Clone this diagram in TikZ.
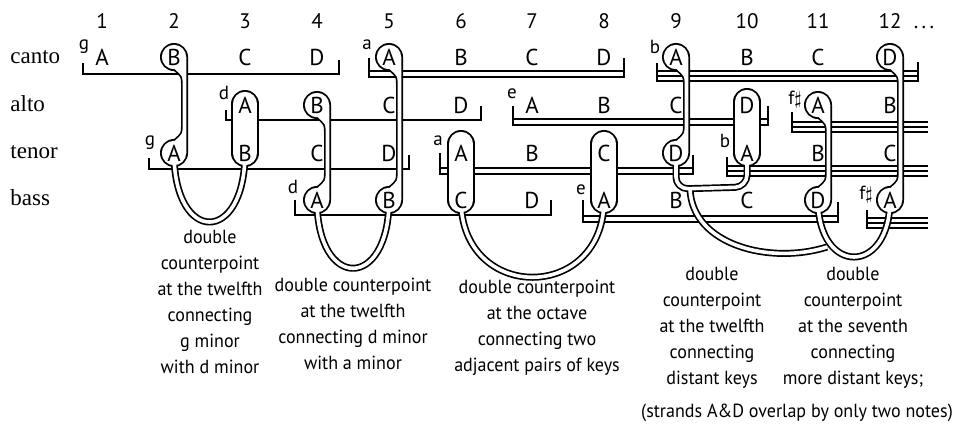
\documentclass[tikz,border=0pt]{standalone}
\usepackage{fontspec}
\setmainfont{Liberation Serif}
\newfontfamily\notafont{PT Sans}
\newfontfamily\capfont{PT Sans}[FakeStretch=0.95]
\usetikzlibrary{calc}
\pgfdeclarelayer{lineas}
\pgfdeclarelayer{negro}
\pgfdeclarelayer{blanco}
\pgfsetlayers{lineas,negro,blanco,main}
\tikzset{
  nota/.style={font=\notafont\fontsize{11.5}{14}\selectfont,inner sep=0pt,
               text height=8pt,text depth=0pt},
  num/.style={nota,font=\notafont\fontsize{10.5}{12}\selectfont,text height=7.4pt},
  voz/.style={font=\fontsize{11.5}{13}\selectfont,anchor=base west,inner sep=0pt},
  clave/.style={font=\notafont\fontsize{9.5}{11}\selectfont,inner sep=0pt},
  leyenda/.style={font=\capfont\fontsize{9.5}{13}\selectfont,align=center,inner sep=0pt},
  raya/.style={line width=1pt},
  tubon/.style={line width=3.5pt,line join=round},
  tubob/.style={line width=1.8pt,line join=round,white},
}
\newcommand{\tubo}[2][]{%
  \begin{pgfonlayer}{negro}\draw[tubon,#1] #2;\end{pgfonlayer}%
  \begin{pgfonlayer}{blanco}\draw[tubob,#1] #2;\end{pgfonlayer}}
\newcommand{\anillo}[1]{%
  \begin{pgfonlayer}{negro}\fill (#1.center) circle[radius=7pt];\end{pgfonlayer}%
  \begin{pgfonlayer}{blanco}\fill[white] (#1.center) circle[radius=6.1pt];\end{pgfonlayer}}
\newcommand{\capsula}[3][3]{%
  \begin{pgfonlayer}{negro}\draw[line width=14pt,line cap=round]
    ($(#2.center)+(0,-#1)$) -- (#3.center);\end{pgfonlayer}%
  \begin{pgfonlayer}{blanco}\draw[white,line width=12.2pt,line cap=round]
    ($(#2.center)+(0,-#1)$) -- (#3.center);\end{pgfonlayer}}
\newcommand{\cable}[2]{%
  \tubo{($(#1.center)+(10.5,0)$) -- ($(#2.center)+(10.5,0)$)
    ($(#1.center)+(0,6)$) .. controls ($(#1.center)+(3,17)$) and ($(#1.center)+(10.5,12)$) .. ($(#1.center)+(10.5,26)$)
    ($(#2.center)+(10.5,-26)$) .. controls ($(#2.center)+(10.5,-12)$) and ($(#2.center)+(3,-17)$) .. ($(#2.center)+(0,-6)$)}%
  \begin{pgfonlayer}{blanco}
    \fill[white] ($(#1.center)+(0,6)$) .. controls ($(#1.center)+(3,17)$) and ($(#1.center)+(10.5,12)$)
      .. ($(#1.center)+(10.5,26)$) -- ($(#1.center)+(10.5,0)$) -- cycle;
    \fill[white] ($(#2.center)+(10.5,-26)$) .. controls ($(#2.center)+(10.5,-12)$) and ($(#2.center)+(3,-17)$)
      .. ($(#2.center)+(0,-6)$) -- ($(#2.center)+(10.5,0)$) -- cycle;
  \end{pgfonlayer}}

\begin{document}
\begin{tikzpicture}[x=0.5pt,y=-0.5pt]
\useasboundingbox (0,0) rectangle (954,425);

\node[num] (n1) at (102,21) {1};   \node[num] (n2) at (174,21) {2};
\node[num] (n3) at (245,21) {3};   \node[num] (n4) at (317,21) {4};
\node[num] (n5) at (389,21) {5};   \node[num] (n6) at (461,21) {6};
\node[num] (n7) at (532,21) {7};   \node[num] (n8) at (604,21) {8};
\node[num] (n9) at (676,21) {9};   \node[num] (n10) at (747,21) {10};
\node[num] (n11) at (818,21) {11}; \node[num] (n12) at (890,21) {12};
\node[num] (nmas) at (924,21) {.\,.\,.};

\node[voz] (vcanto) at (10,63) {canto};
\node[voz] (valto) at (10,111) {alto};
\node[voz] (vtenor) at (10,158) {tenor};
\node[voz] (vbass) at (10,205) {bass};

\node[nota] (c1) at (102,57) {A};  \node[nota] (c2) at (174,57) {B};
\node[nota] (c3) at (245,57) {C};  \node[nota] (c4) at (317,57) {D};
\node[nota] (c5) at (389,57) {A};  \node[nota] (c6) at (461,57) {B};
\node[nota] (c7) at (532,57) {C};  \node[nota] (c8) at (604,57) {D};
\node[nota] (c9) at (676,57) {A};  \node[nota] (c10) at (747,57) {B};
\node[nota] (c11) at (818,57) {C}; \node[nota] (c12) at (890,57) {D};

\node[nota] (a3) at (245,105) {A};  \node[nota] (a4) at (317,105) {B};
\node[nota] (a5) at (389,105) {C};  \node[nota] (a6) at (461,105) {D};
\node[nota] (a7) at (532,105) {A};  \node[nota] (a8) at (604,105) {B};
\node[nota] (a9) at (676,105) {C};  \node[nota] (a10) at (747,105) {D};
\node[nota] (a11) at (818,105) {A}; \node[nota] (a12) at (890,105) {B};

\node[nota] (t2) at (174,153) {A};  \node[nota] (t3) at (245,153) {B};
\node[nota] (t4) at (317,153) {C};  \node[nota] (t5) at (389,153) {D};
\node[nota] (t6) at (461,153) {A};  \node[nota] (t7) at (532,153) {B};
\node[nota] (t8) at (604,153) {C};  \node[nota] (t9) at (676,153) {D};
\node[nota] (t10) at (747,153) {A}; \node[nota] (t11) at (818,153) {B};
\node[nota] (t12) at (890,153) {C};

\node[nota] (b4) at (317,200) {A};  \node[nota] (b5) at (389,200) {B};
\node[nota] (b6) at (461,200) {C};  \node[nota] (b7) at (532,200) {D};
\node[nota] (b8) at (604,200) {A};  \node[nota] (b9) at (676,200) {B};
\node[nota] (b10) at (747,200) {C}; \node[nota] (b11) at (818,200) {D};
\node[nota] (b12) at (890,200) {A};

\node[clave] (kcg) at (84,47) {g};   \node[clave] (ktg) at (150,143) {g};
\node[clave] (kad) at (224,93) {d};  \node[clave] (kbd) at (293,187) {d};
\node[clave] (kca) at (367,45) {a};  \node[clave] (kta) at (438,141) {a};
\node[clave] (kae) at (512,94) {e};  \node[clave] (kbe) at (581,190) {e};
\node[clave] (kcb) at (655,47) {b};  \node[clave] (ktb) at (725,141) {b};
\node[clave] (kaf) at (795,100) {f$\sharp$}; \node[clave] (kbf) at (866,195) {f$\sharp$};

\begin{pgfonlayer}{lineas}
\draw[raya] (83,63) -- (83,74) -- (339,74) -- (339,60);
\draw[raya] (369,58) -- (369,78) (369,71) -- (624,71) (369,77) -- (624,77) (624,58) -- (624,78);
\draw[raya] (657,63) -- (657,82) (657,71) -- (918,71) (657,76) -- (918,76) (657,81) -- (918,81) (918,62) -- (918,82);
\draw[raya] (226,110) -- (226,120) -- (481,120) -- (481,106);
\draw[raya] (513,106) -- (513,126) (513,119) -- (768,119) (513,125) -- (768,125) (768,106) -- (768,126);
\draw[raya] (792,112) -- (792,133) (792,122) -- (928,122) (792,127) -- (928,127) (792,132) -- (928,132);
\draw[raya] (149,158) -- (149,169) -- (409,169) -- (409,155);
\draw[raya] (440,153) -- (440,175) (440,168) -- (693,168) (440,174) -- (693,174) (693,155) -- (693,175);
\draw[raya] (727,157) -- (727,177) (727,166) -- (928,166) (727,171) -- (928,171) (727,176) -- (928,176);
\draw[raya] (295,200) -- (295,215) -- (551,215) -- (551,200);
\draw[raya] (583,200) -- (583,223) (583,216) -- (838,216) (583,222) -- (838,222) (838,202) -- (838,223);
\draw[raya] (867,210) -- (867,229) (867,218) -- (928,218) (867,223) -- (928,223) (867,228) -- (928,228);
\end{pgfonlayer}

\anillo{c2} \anillo{t2} \anillo{a4} \anillo{b4} \anillo{c5} \anillo{b5}
\anillo{c9} \anillo{t9} \anillo{a11} \anillo{b11} \anillo{c12} \anillo{b12}
\capsula[1]{a3}{t3} \capsula[9]{t6}{b6} \capsula[9]{t8}{b8} \capsula{a10}{t10}
\cable{c2}{t2} \cable{a4}{b4} \cable{c5}{b5}
\cable{c9}{t9} \cable{a11}{b11} \cable{c12}{b12}

\tubo{(t2.center) .. controls ($(t2.center)+(0,92)$) and ($(t3.center)+(0,92)$) .. (t3.center)}
\tubo{(b4.center) .. controls ($(b4.center)+(0,91)$) and ($(b5.center)+(0,91)$) .. (b5.center)}
\tubo{(b6.center) .. controls ($(b6.center)+(0,103)$) and ($(b8.center)+(0,103)$) .. (b8.center)}
\tubo[rounded corners=6pt]{(t9.center) -- ($(t9.center)+(0,36)$) -- ($(t10.center)+(0,34)$) -- (t10.center)}
\tubo{($(t9.center)+(14,36)$) .. controls ($(t9.center)+(16,92)$) and ($(b11.center)+(-48,65)$) .. ($(b11.center)+(9,47)$)}
\tubo{(b11.center) .. controls ($(b11.center)+(0,76)$) and ($(b12.center)+(0,76)$) .. (b12.center)}

\node[leyenda] (ley1) at (210,302)
  {double\\counterpoint\\at the twelfth\\connecting\\g minor\\with d minor};
\node[leyenda] (ley2) at (353,324)
  {double counterpoint\\at the twelfth\\connecting d minor\\with a minor};
\node[leyenda] (ley3) at (537,328)
  {double counterpoint\\at the octave\\connecting two\\adjacent pairs of keys};
\node[leyenda] (ley4) at (712,328)
  {double\\counterpoint\\at the twelfth\\connecting\\distant keys};
\node[leyenda] (ley5) at (853,328)
  {double\\counterpoint\\at the seventh\\connecting\\more distant keys;};
\node[leyenda] (ley6) at (797,413) {(strands A\&D overlap by only two notes)};

\end{tikzpicture}
\end{document}
